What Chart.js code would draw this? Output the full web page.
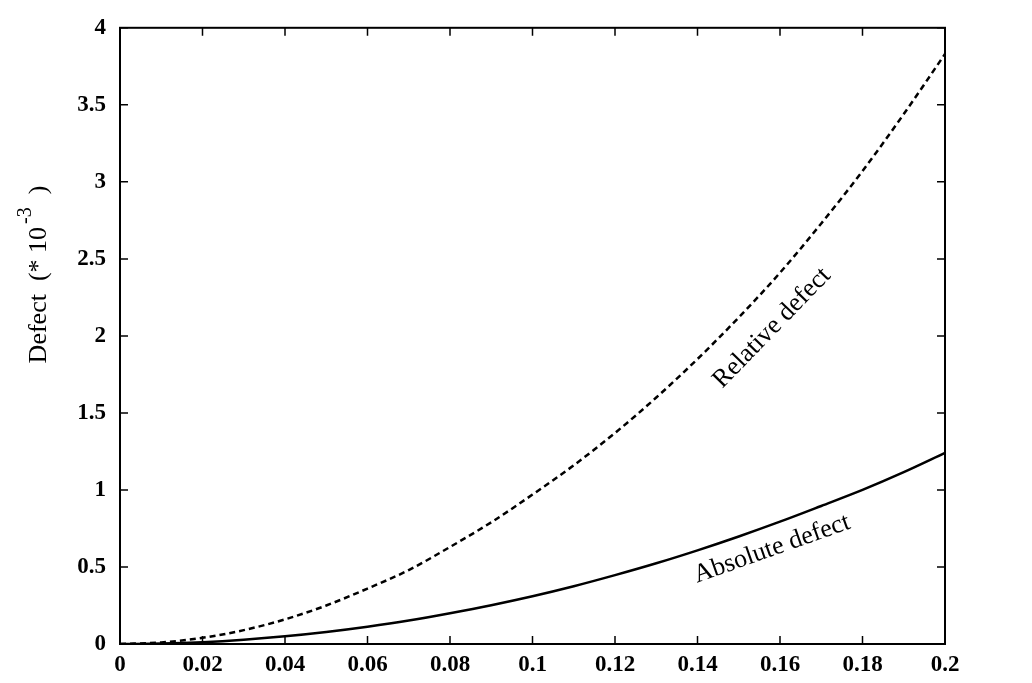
<!DOCTYPE html>
<html lang="en">
  <head>
    <meta charset="UTF-8" />
    <title>Defect</title>
    <script src="https://cdn.jsdelivr.net/npm/chart.js"></script>
    <style>
      body { margin: 0; background: #fff; }
      #wrap { width: 1032px; height: 683px; }
    </style>
  </head>
  <body>
    <div id="wrap"><canvas id="myChart" width="1032" height="683"></canvas></div>
    <script>
      // values (defect in units of 1e-3)
      const xValues = [0, 0.01, 0.02, 0.03, 0.04, 0.05, 0.06, 0.07, 0.08, 0.09, 0.1,
                       0.11, 0.12, 0.13, 0.14, 0.15, 0.16, 0.17, 0.18, 0.19, 0.2];
      const relativeDefect = [0, 0.01, 0.04, 0.09, 0.16, 0.25, 0.36, 0.48, 0.63, 0.79, 0.97,
                              1.16, 1.37, 1.6, 1.85, 2.12, 2.41, 2.73, 3.07, 3.44, 3.83];
      const absoluteDefect = [0, 0.003, 0.012, 0.028, 0.05, 0.078, 0.112, 0.152, 0.2, 0.252, 0.31,
                              0.375, 0.447, 0.524, 0.608, 0.698, 0.794, 0.896, 1.0, 1.115, 1.24];
      const xTicks = [0, 0.02, 0.04, 0.06, 0.08, 0.1, 0.12, 0.14, 0.16, 0.18, 0.2];
      const yTicks = [0, 0.5, 1, 1.5, 2, 2.5, 3, 3.5, 4];

      const serif = "'Liberation Serif', 'DejaVu Serif', serif";

      function toPoints(ys) {
        return xValues.map((x, i) => ({ x: x, y: ys[i] }));
      }

      // frame, inward ticks, axis title and curve labels
      const framePlugin = {
        id: 'frame',
        afterDatasetsDraw(chart) {
          const { ctx, chartArea: a, scales } = chart;
          ctx.save();
          ctx.strokeStyle = '#000';
          ctx.lineWidth = 2;
          ctx.strokeRect(a.left, a.top, a.right - a.left, a.bottom - a.top);
          ctx.lineWidth = 1.5;
          ctx.beginPath();
          xTicks.forEach(v => {
            const px = scales.x.getPixelForValue(v);
            ctx.moveTo(px, a.bottom); ctx.lineTo(px, a.bottom - 8);
            ctx.moveTo(px, a.top); ctx.lineTo(px, a.top + 8);
          });
          yTicks.forEach(v => {
            const py = scales.y.getPixelForValue(v);
            ctx.moveTo(a.left, py); ctx.lineTo(a.left + 8, py);
            ctx.moveTo(a.right, py); ctx.lineTo(a.right - 8, py);
          });
          ctx.stroke();

          // y axis title with superscript
          ctx.fillStyle = '#000';
          ctx.translate(46, 276);
          ctx.rotate(-Math.PI / 2);
          ctx.textBaseline = 'alphabetic';
          ctx.textAlign = 'left';
          const main = 'Defect  (* 10';
          ctx.font = '26px ' + serif;
          const w1 = ctx.measureText(main).width;
          const sup = '-3';
          ctx.font = '20px ' + serif;
          const w2 = ctx.measureText(sup).width;
          ctx.font = '26px ' + serif;
          const w3 = ctx.measureText('  )').width;
          let start = -(w1 + w2 + w3) / 2;
          ctx.fillText(main, start, 0);
          ctx.font = '20px ' + serif;
          ctx.fillText(sup, start + w1 + 3, -15);
          ctx.font = '26px ' + serif;
          ctx.fillText('  )', start + w1 + w2 + 3, 0);
          ctx.restore();

          // curve labels
          ctx.save();
          ctx.fillStyle = '#000';
          ctx.font = '26px ' + serif;
          ctx.textAlign = 'center';
          ctx.textBaseline = 'middle';
          ctx.translate(772, 328);
          ctx.rotate(-0.80);
          ctx.fillText('Relative defect', 0, 0);
          ctx.restore();
          ctx.save();
          ctx.fillStyle = '#000';
          ctx.font = '26px ' + serif;
          ctx.textAlign = 'center';
          ctx.textBaseline = 'middle';
          ctx.translate(772, 549);
          ctx.rotate(-0.34);
          ctx.fillText('Absolute defect', 0, 0);
          ctx.restore();
        }
      };

      const ctx = document.getElementById('myChart');
      new Chart(ctx, {
        type: 'line',
        data: {
          datasets: [
            {
              label: 'Relative defect',
              data: toPoints(relativeDefect),
              borderColor: '#000',
              borderWidth: 2.5,
              borderDash: [6, 4],
              pointRadius: 0,
              cubicInterpolationMode: 'monotone',
              fill: false
            },
            {
              label: 'Absolute defect',
              data: toPoints(absoluteDefect),
              borderColor: '#000',
              borderWidth: 2.5,
              pointRadius: 0,
              cubicInterpolationMode: 'monotone',
              fill: false
            }
          ]
        },
        options: {
          responsive: false,
          animation: false,
          layout: { padding: { left: 0, top: 26, right: 87, bottom: 0 } },
          plugins: {
            legend: { display: false },
            tooltip: { enabled: false }
          },
          scales: {
            x: {
              type: 'linear',
              min: 0,
              max: 0.2,
              afterFit(scale) { scale.height = 39; },
              afterBuildTicks(scale) { scale.ticks = xTicks.map(v => ({ value: v })); },
              grid: { display: false, drawTicks: false },
              border: { display: false },
              ticks: {
                padding: 7,
                color: '#000',
                font: { family: serif, size: 23, weight: 'bold' },
                callback: v => String(Math.round(v * 100) / 100)
              }
            },
            y: {
              min: 0,
              max: 4,
              afterFit(scale) { scale.width = 120; },
              afterBuildTicks(scale) { scale.ticks = yTicks.map(v => ({ value: v })); },
              grid: { display: false, drawTicks: false },
              border: { display: false },
              ticks: {
                padding: 14,
                color: '#000',
                font: { family: serif, size: 23, weight: 'bold' },
                callback: v => String(v)
              }
            }
          }
        },
        plugins: [framePlugin]
      });
    </script>
  </body>
</html>
